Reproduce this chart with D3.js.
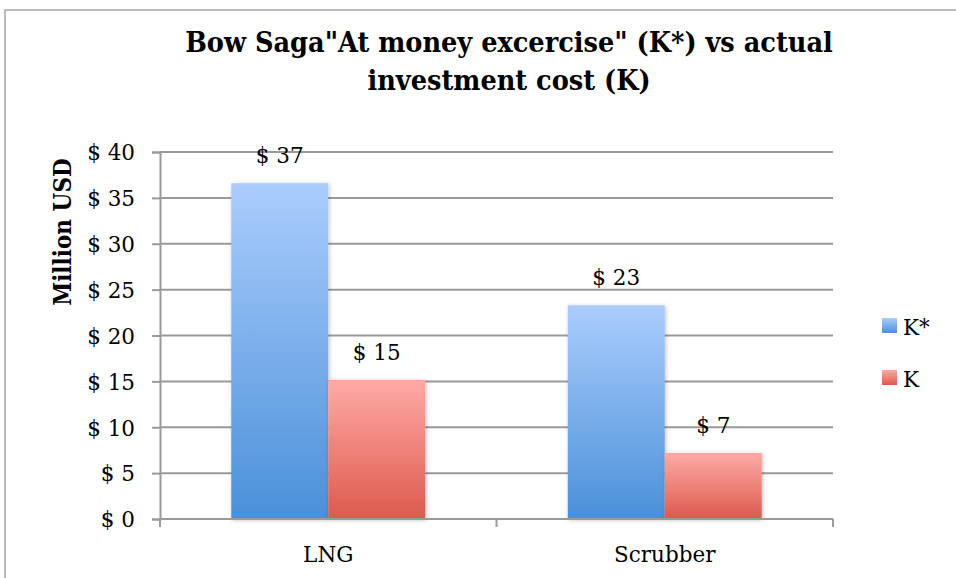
<!DOCTYPE html>
<html>
<head>
<meta charset="utf-8">
<script src="https://cdn.jsdelivr.net/npm/d3@7"></script>
<style>
  body { margin: 0; background: #fff; }
  svg { display: block; }
</style>
</head>
<body>
<div id="chart"></div>
<script>
// chart data
var categories = ["LNG", "Scrubber"];
var seriesNames = ["K*", "K"];
var kStarValues = [36.6, 23.3];
var kValues = [15.15, 7.2];
var valueLabels = [["$ 37", "$ 15"], ["$ 23", "$ 7"]];
var yTicks = [0, 5, 10, 15, 20, 25, 30, 35, 40];
var titleLines = ["Bow Saga\"At money excercise\" (K*) vs actual", "investment cost (K)"];
var yTitle = "Million USD";

var width = 956, height = 578;
var plot = {left: 160, right: 833, top: 152, bottom: 519};
var serif = "'DejaVu Serif', serif";
var condensed = "'DejaVu Serif Condensed', 'DejaVu Serif', serif";
var labelSize = 21.5;

var svg = d3.select("#chart").append("svg")
	.attr("width", width)
	.attr("height", height);

var defs = svg.append("defs");
// vertical gradients for the two series
var gradStops = {
	"K*": ["#abcdfd", "#4a90d8"],
	"K": ["#ffaaa6", "#dc5a4d"]
};
seriesNames.forEach(function(s, i){
	var g = defs.append("linearGradient")
		.attr("id", "grad" + i)
		.attr("x1", 0).attr("y1", 0).attr("x2", 0).attr("y2", 1);
	g.append("stop").attr("offset", "0%").attr("stop-color", gradStops[s][0]);
	g.append("stop").attr("offset", "100%").attr("stop-color", gradStops[s][1]);
});
var shadow = defs.append("filter").attr("id", "shadow")
	.attr("x", "-10%").attr("y", "-10%").attr("width", "130%").attr("height", "130%");
shadow.append("feDropShadow")
	.attr("dx", 1).attr("dy", 1).attr("stdDeviation", 2)
	.attr("flood-color", "#000").attr("flood-opacity", 0.25);

// outer frame (only left and top edges show in the crop)
svg.append("path")
	.attr("d", "M5," + height + "V10H" + width)
	.attr("fill", "none")
	.attr("stroke", "#a6a6a6")
	.attr("stroke-width", 1.5);

// title
svg.append("g").selectAll("text")
	.data(titleLines)
	.enter().append("text")
	.attr("x", 509)
	.attr("y", function(d, i){ return 52 + i * 38; })
	.attr("text-anchor", "middle")
	.attr("font-family", condensed)
	.attr("font-weight", "bold")
	.attr("font-size", 28.5)
	.attr("fill", "#000")
	.text(function(d){ return d; });

// scales
var x0 = d3.scaleBand()
	.domain(categories)
	.range([plot.left, plot.right]);
var x1 = d3.scaleBand()
	.domain(seriesNames)
	.range([0, x0.bandwidth()])
	.paddingOuter(0.735);
var y = d3.scaleLinear()
	.domain([0, 40])
	.range([plot.bottom, plot.top]);

// gridlines
svg.append("g").selectAll("line")
	.data(yTicks.slice(1))
	.enter().append("line")
	.attr("x1", plot.left).attr("x2", plot.right)
	.attr("y1", function(d){ return y(d); })
	.attr("y2", function(d){ return y(d); })
	.attr("stroke", "#9a9a9a")
	.attr("stroke-width", 2);

// y axis
var yAxis = svg.append("g")
	.attr("transform", "translate(" + plot.left + ",0)")
	.call(d3.axisLeft(y).tickValues(yTicks).tickSize(8).tickPadding(17)
		.tickFormat(function(d){ return "$ " + d; }));
yAxis.select(".domain").attr("stroke", "#9a9a9a").attr("stroke-width", 2);
yAxis.selectAll(".tick line").attr("stroke", "#9a9a9a").attr("stroke-width", 2);
yAxis.selectAll(".tick text")
	.attr("font-family", serif)
	.attr("font-size", labelSize)
	.attr("fill", "#000")
	.attr("dy", "0.36em");

// bars
var rows = categories.map(function(c, i){
	return {cat: c, vals: [kStarValues[i], kValues[i]], labels: valueLabels[i]};
});
var groups = svg.append("g").selectAll("g")
	.data(rows)
	.enter().append("g")
	.attr("transform", function(d){ return "translate(" + x0(d.cat) + ",0)"; });

groups.selectAll("rect")
	.data(function(d){ return d.vals.map(function(v, i){ return {s: seriesNames[i], v: v, i: i}; }); })
	.enter().append("rect")
	.attr("x", function(d){ return x1(d.s); })
	.attr("width", x1.bandwidth())
	.attr("y", function(d){ return y(d.v); })
	.attr("height", function(d){ return y(0) - y(d.v); })
	.attr("fill", function(d){ return "url(#grad" + d.i + ")"; })
	.attr("filter", "url(#shadow)");

groups.selectAll("text.val")
	.data(function(d){ return d.vals.map(function(v, i){ return {s: seriesNames[i], v: v, label: d.labels[i]}; }); })
	.enter().append("text")
	.attr("class", "val")
	.attr("x", function(d){ return x1(d.s) + x1.bandwidth() / 2; })
	.attr("y", function(d){ return y(d.v) - 20; })
	.attr("text-anchor", "middle")
	.attr("font-family", serif)
	.attr("font-size", labelSize)
	.text(function(d){ return d.label; });

// x axis
var xAxisG = svg.append("g");
xAxisG.append("line")
	.attr("x1", plot.left).attr("x2", plot.right)
	.attr("y1", plot.bottom).attr("y2", plot.bottom)
	.attr("stroke", "#9a9a9a").attr("stroke-width", 2);
var boundaries = categories.map(function(c){ return x0(c); }).concat([plot.right]);
xAxisG.selectAll("line.tick")
	.data(boundaries)
	.enter().append("line")
	.attr("class", "tick")
	.attr("x1", function(d){ return d; }).attr("x2", function(d){ return d; })
	.attr("y1", plot.bottom).attr("y2", plot.bottom + 8)
	.attr("stroke", "#9a9a9a").attr("stroke-width", 2);
xAxisG.selectAll("text")
	.data(categories)
	.enter().append("text")
	.attr("x", function(d){ return x0(d) + x0.bandwidth() / 2; })
	.attr("y", 562)
	.attr("text-anchor", "middle")
	.attr("font-family", serif)
	.attr("font-size", labelSize)
	.text(function(d){ return d; });

// y axis title
svg.append("text")
	.attr("transform", "translate(71,232) rotate(-90)")
	.attr("text-anchor", "middle")
	.attr("font-family", condensed)
	.attr("font-weight", "bold")
	.attr("font-size", 24)
	.text(yTitle);

// legend
var legend = svg.append("g").selectAll("g")
	.data(seriesNames)
	.enter().append("g")
	.attr("transform", function(d, i){ return "translate(882," + (318 + i * 52) + ")"; });
legend.append("rect")
	.attr("width", 15).attr("height", 15)
	.attr("fill", function(d, i){ return "url(#grad" + i + ")"; });
legend.append("text")
	.attr("x", 21).attr("y", 17)
	.attr("font-family", serif)
	.attr("font-size", labelSize)
	.text(function(d){ return d; });
</script>
</body>
</html>
